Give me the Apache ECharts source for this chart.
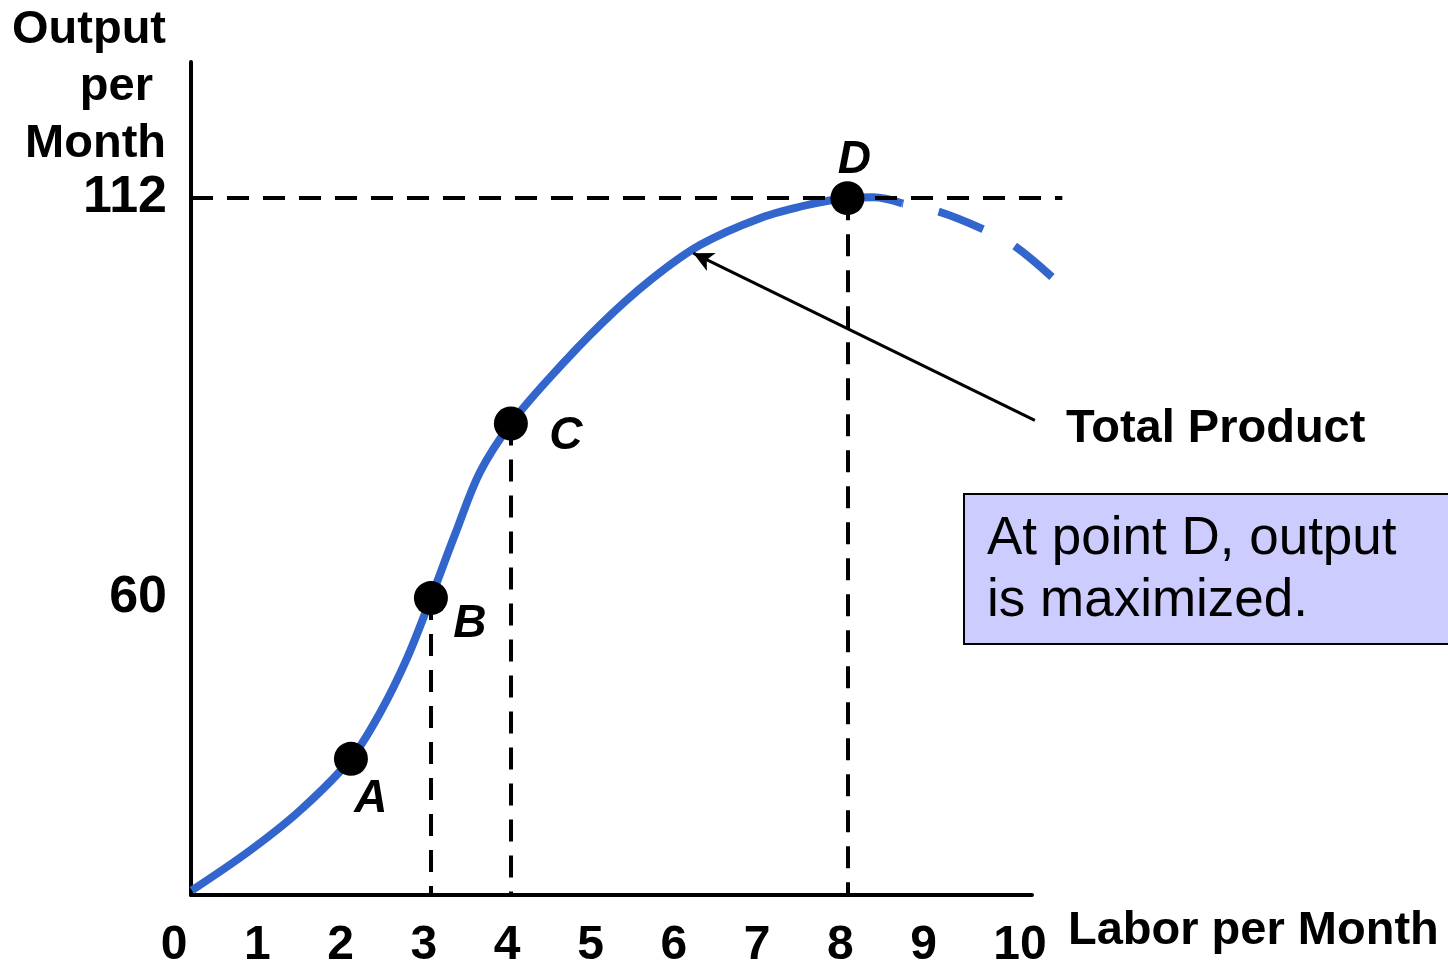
<!DOCTYPE html>
<html>
<head>
<meta charset="utf-8">
<title>Total Product</title>
<script src="https://cdn.jsdelivr.net/npm/echarts@6.0.0/dist/echarts.min.js"></script>
<style>
  html, body { margin: 0; padding: 0; background: #fff; }
  #chart { width: 1448px; height: 965px; }
</style>
</head>
<body>
<div id="chart"></div>
<script>
// values
const laborTicks = [0, 1, 2, 3, 4, 5, 6, 7, 8, 9, 10];
const outputTicks = [60, 112];

// total product curve (solid part)
const curveLabor = [0.13, 0.83, 1.43, 2.04, 2.39, 2.71, 3.0, 3.29, 3.59, 3.96, 4.43, 5.03, 5.63, 6.23, 6.95, 7.55, 8.0, 8.31, 8.66];
const curveOutput = [22.0, 27.2, 32.4, 39.1, 45.1, 52.1, 60.0, 68.3, 76.4, 82.7, 88.7, 95.5, 101.3, 105.9, 109.4, 111.2, 112.0, 112.1, 111.3];
// dashed part after the maximum
const tailLabor = [8.66, 9.11, 9.62, 9.99, 10.46];
const tailOutput = [111.3, 110.2, 108.0, 105.9, 101.7];

const pointNames = ['A', 'B', 'C', 'D'];
const pointLabor = [2.04, 3, 3.96, 8];
const pointOutput = [39.1, 60, 82.7, 112];

const FONT = 'Liberation Sans, Arial, Helvetica, sans-serif';
const yMin = 21.4;
const yMax = 129.7;
const xMax = 10.6;
const axisX = 0.12;   // where the drawn y axis sits on the data scale

const chart = echarts.init(document.getElementById('chart'));

const zip = (xs, ys) => xs.map((x, i) => [x, ys[i]]);

const labelOffsets = [[20, 40], [39, 26], [55, 13], [7, -38]];
const pointData = pointNames.map((n, i) => ({
  name: n,
  value: [pointLabor[i], pointOutput[i]],
  label: { offset: labelOffsets[i] }
}));

// dashed drop lines from B, C, D and the level line at D
const guides = [1, 2, 3].map(i => [
  { coord: [pointLabor[i], pointOutput[i]] },
  { coord: [pointLabor[i], yMin] }
]);
guides.push([
  { coord: [axisX, pointOutput[3]] },
  { coord: [10.58, pointOutput[3]] }
]);

const option = {
  animation: false,
  backgroundColor: '#fff',
  textStyle: { fontFamily: FONT },
  grid: [
    { left: 181, right: 1448 - 181 - Math.round(xMax * 83.3), top: 62, bottom: 70, outerBoundsMode: 'none' },
    { left: 191, right: 416, top: 62, bottom: 70, outerBoundsMode: 'none' }
  ],
  xAxis: [{
    gridIndex: 0,
    type: 'value',
    min: 0,
    max: xMax,
    axisLine: { show: false },
    axisTick: { show: false },
    splitLine: { show: false },
    axisLabel: {
      customValues: laborTicks,
      margin: 27,
      color: '#000',
      formatter: v => v === 10 ? '{w|' + v + '}' : '{n|' + v + '}',
      rich: {
        n: { fontSize: 48, fontWeight: 'bold', fontFamily: FONT, color: '#000', padding: [0, 14, 0, 0] },
        w: { fontSize: 48, fontWeight: 'bold', fontFamily: FONT, color: '#000', padding: [0, 0, 0, 12] }
      }
    }
  }, {
    gridIndex: 1,
    type: 'value',
    min: 0,
    max: 1,
    axisLine: { show: true, onZero: false, lineStyle: { color: '#000', width: 4 } },
    axisTick: { show: false },
    axisLabel: { show: false },
    splitLine: { show: false },
    name: 'Labor per Month',
    nameLocation: 'end',
    nameGap: 36,
    nameTextStyle: {
      fontSize: 47, fontWeight: 'bold', fontFamily: FONT, color: '#000',
      align: 'left', verticalAlign: 'top', padding: [13, 0, 0, 0]
    }
  }],
  yAxis: [{
    gridIndex: 0,
    type: 'value',
    min: yMin,
    max: yMax,
    show: false,
    splitLine: { show: false }
  }, {
    gridIndex: 1,
    type: 'value',
    min: yMin,
    max: yMax,
    axisLine: { show: true, onZero: false, lineStyle: { color: '#000', width: 4 } },
    axisTick: { show: false },
    splitLine: { show: false },
    axisLabel: {
      customValues: outputTicks,
      margin: 24,
      fontSize: 52,
      fontWeight: 'bold',
      fontFamily: FONT,
      color: '#000'
    },
    name: 'Output\nper \nMonth',
    nameLocation: 'end',
    nameGap: 62,
    nameTextStyle: {
      fontSize: 47, fontWeight: 'bold', fontFamily: FONT, color: '#000',
      align: 'right', verticalAlign: 'top', lineHeight: 57, padding: [2, 25, 0, 0]
    }
  }],
  series: [
    {
      name: 'Total Product',
      type: 'line',
      xAxisIndex: 0,
      yAxisIndex: 0,
      data: zip(curveLabor, curveOutput),
      smooth: 0.35,
      showSymbol: false,
      clip: false,
      z: 2,
      lineStyle: { color: '#3366cc', width: 8, cap: 'butt' }
    },
    {
      name: 'Total Product (beyond max)',
      type: 'line',
      xAxisIndex: 0,
      yAxisIndex: 0,
      data: zip(tailLabor, tailOutput),
      smooth: 0.35,
      showSymbol: false,
      clip: false,
      z: 2,
      lineStyle: { color: '#3366cc', width: 8, type: [48, 36], dashOffset: 47, cap: 'butt' }
    },
    {
      name: 'guides',
      type: 'line',
      xAxisIndex: 0,
      yAxisIndex: 0,
      data: [],
      z: 3,
      silent: true,
      markLine: {
        silent: true,
        symbol: 'none',
        label: { show: false },
        emphasis: { disabled: true },
        lineStyle: { color: '#000', width: 4, type: [22, 14], opacity: 1 },
        data: guides
      }
    },
    {
      name: 'arrow',
      type: 'line',
      xAxisIndex: 0,
      yAxisIndex: 0,
      data: [],
      z: 3,
      silent: true,
      markLine: {
        silent: true,
        symbol: ['none', 'arrow'],
        symbolSize: [15, 20],
        label: { show: false },
        emphasis: { disabled: true },
        lineStyle: { color: '#000', width: 3, type: 'solid', opacity: 1 },
        data: [[{ coord: [10.25, 83.1] }, { coord: [6.15, 104.85] }]]
      }
    },
    {
      name: 'points',
      type: 'scatter',
      xAxisIndex: 0,
      yAxisIndex: 0,
      data: pointData,
      symbolSize: 34,
      z: 4,
      itemStyle: { color: '#000', opacity: 1 },
      label: {
        show: true,
        position: 'inside',
        formatter: '{b}',
        fontSize: 46,
        fontWeight: 'bold',
        fontStyle: 'italic',
        fontFamily: FONT,
        color: '#000'
      }
    }
  ],
  graphic: [
    {
      type: 'text',
      left: 1066,
      top: 406,
      style: {
        text: 'Total Product',
        fontSize: 47,
        fontWeight: 'bold',
        fontFamily: FONT,
        fill: '#000'
      }
    },
    {
      type: 'rect',
      left: 963,
      top: 493,
      shape: { width: 500, height: 150 },
      style: { fill: '#ccccff', stroke: '#000', lineWidth: 2 }
    },
    {
      type: 'text',
      left: 987,
      top: 508,
      style: {
        text: 'At point D, output\nis maximized.',
        fontSize: 53,
        fontFamily: FONT,
        lineHeight: 62,
        fill: '#000'
      }
    }
  ]
};

chart.setOption(option);
</script>
</body>
</html>
